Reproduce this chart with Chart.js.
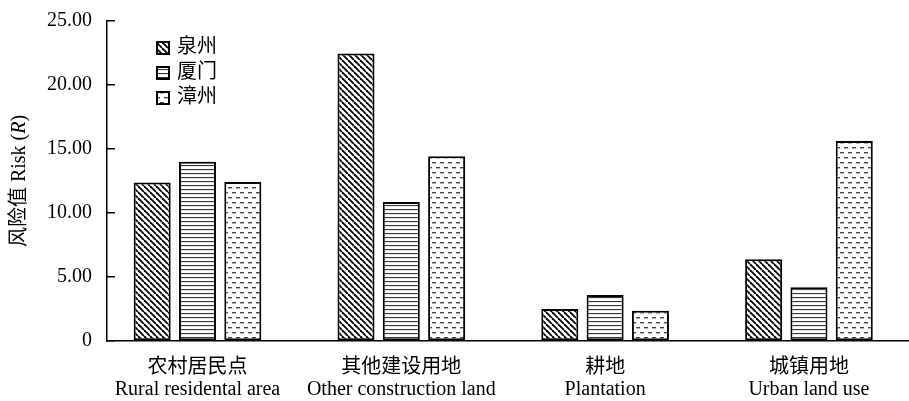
<!DOCTYPE html>
<html>
<head>
<meta charset="utf-8">
<script src="https://cdn.jsdelivr.net/npm/chart.js@4/dist/chart.umd.min.js"></script>
<style>
  html, body { margin: 0; padding: 0; background: #fff; }
  #wrap { width: 909px; height: 401px; }
</style>
</head>
<body>
<div id="wrap"><canvas id="c" width="909" height="401"></canvas></div>
<script>
// ---- data ----
const categoriesCn = ['农村居民点', '其他建设用地', '耕地', '城镇用地'];
const categoriesEn = ['Rural residental area', 'Other construction land', 'Plantation', 'Urban land use'];
const seriesNames = ['泉州', '厦门', '漳州'];
const quanzhou = [12.39, 22.46, 2.50, 6.38];
const xiamen = [14.00, 10.85, 3.59, 4.19];
const zhangzhou = [12.43, 14.44, 2.36, 15.63];
const yTickValues = [0, 5, 10, 15, 20, 25];

const FONT = "'Liberation Serif', 'Noto Sans CJK SC', serif";

// ---- patterns ----
function makeTile(w, h, draw) {
  const c = document.createElement('canvas');
  c.width = w; c.height = h;
  const g = c.getContext('2d');
  g.fillStyle = '#fff';
  g.fillRect(0, 0, w, h);
  draw(g, w, h);
  return document.getElementById('c').getContext('2d').createPattern(c, 'repeat');
}
const patDiag = makeTile(6, 6, (g, w, h) => {
  g.strokeStyle = '#000'; g.lineWidth = 1.8;
  for (let o = -w; o <= w; o += w) {
    g.beginPath(); g.moveTo(o, 0); g.lineTo(o + w, h); g.stroke();
  }
});
const patHoriz = makeTile(4, 4, (g, w, h) => {
  g.fillStyle = '#333';
  g.fillRect(0, 1, w, 1.1);
});
const patDash = makeTile(8, 10, (g, w, h) => {
  g.fillStyle = '#444';
  g.fillRect(0, 2, 4, 1.4);
  g.fillRect(4, 7, 4, 1.4);
});
const patterns = [patDiag, patHoriz, patDash];
const seriesValues = [quanzhou, xiamen, zhangzhou];

const datasets = seriesNames.map((name, s) => ({
  label: name,
  data: categoriesCn.map((c, i) => ({ x: i, y: seriesValues[s][i] })),
  backgroundColor: patterns[s],
  borderColor: '#000',
  borderWidth: 2,
  borderSkipped: false,
  categoryPercentage: 0.667,
  barPercentage: 0.817
}));

// ---- custom plugins ----
const legendPlugin = {
  id: 'insideLegend',
  afterDraw(chart) {
    const ctx = chart.ctx;
    const rows = [48, 73, 98];
    ctx.save();
    chart.data.datasets.forEach((ds, i) => {
      const y = rows[i];
      ctx.fillStyle = ds.backgroundColor;
      ctx.fillRect(157, y - 6, 12, 12);
      ctx.strokeStyle = '#000';
      ctx.lineWidth = 2;
      ctx.strokeRect(157, y - 6, 12, 12);
      ctx.fillStyle = '#000';
      ctx.font = '20px ' + FONT;
      ctx.textBaseline = 'middle';
      ctx.textAlign = 'left';
      ctx.fillText(ds.label, 177, y);
    });
    ctx.restore();
  }
};

const yTitlePlugin = {
  id: 'yTitle',
  afterDraw(chart) {
    const ctx = chart.ctx;
    ctx.save();
    ctx.translate(20, 181);
    ctx.rotate(-Math.PI / 2);
    ctx.fillStyle = '#000';
    ctx.textBaseline = 'middle';
    const parts = [
      { t: '风险值 Risk (', f: '20px ' + FONT },
      { t: 'R', f: 'italic 20px ' + FONT },
      { t: ')', f: '20px ' + FONT }
    ];
    let total = 0;
    parts.forEach(p => { ctx.font = p.f; p.w = ctx.measureText(p.t).width; total += p.w; });
    let x = -total / 2;
    ctx.textAlign = 'left';
    parts.forEach(p => { ctx.font = p.f; ctx.fillText(p.t, x, 0); x += p.w; });
    ctx.restore();
  }
};

new Chart(document.getElementById('c'), {
  type: 'bar',
  data: { datasets },
  options: {
    responsive: false,
    animation: false,
    devicePixelRatio: 1,
    layout: { padding: { left: 0, right: 1, top: 21, bottom: 0 } },
    plugins: {
      legend: { display: false },
      tooltip: { enabled: false }
    },
    scales: {
      x: {
        type: 'linear',
        offset: false,
        min: -0.444,
        max: 3.486,
        afterBuildTicks(scale) { scale.ticks = categoriesCn.map((c, i) => ({ value: i })); },
        afterFit(scale) { scale.height = 60; },
        grid: { display: false, drawTicks: false, offset: false },
        border: { display: true, color: '#000', width: 1.5 },
        ticks: {
          padding: 16,
          maxRotation: 0,
          autoSkip: false,
          color: '#000',
          font: { family: FONT, size: 20, lineHeight: 1.1 },
          callback: (v) => [categoriesCn[v], categoriesEn[v]]
        }
      },
      y: {
        min: 0,
        max: 25,
        afterBuildTicks(scale) { scale.ticks = yTickValues.map(v => ({ value: v })); },
        afterFit(scale) { scale.width = 107; scale.paddingTop = 0; scale.paddingBottom = 0; },
        grid: { display: true, drawOnChartArea: false, drawTicks: true, tickLength: -8, color: '#000', lineWidth: 1.5 },
        border: { display: true, color: '#000', width: 1.5 },
        ticks: {
          padding: 23,
          color: '#000',
          font: { family: FONT, size: 20 },
          callback: (v) => (v === 0 ? '0' : Number(v).toFixed(2))
        }
      }
    }
  },
  plugins: [legendPlugin, yTitlePlugin]
});
</script>
</body>
</html>
